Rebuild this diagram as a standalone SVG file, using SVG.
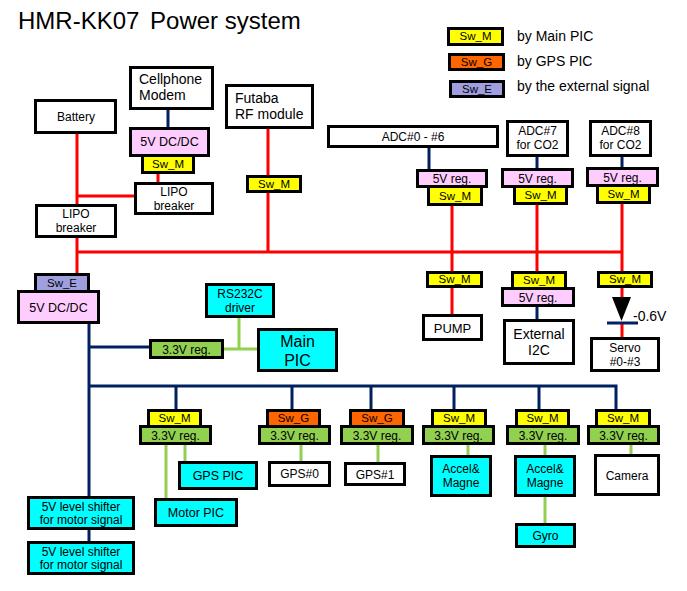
<svg xmlns="http://www.w3.org/2000/svg" width="687" height="591" viewBox="0 0 687 591">
<style>
rect{stroke:#000;stroke-width:3}
.w{fill:#fff}.c{fill:#00ffff}.p{fill:#ffccff}.y{fill:#ffff00}.o{fill:#ff6600}.e{fill:#9f9fdf}.g{fill:#92d050}
text{font-family:"Liberation Sans",Arial,sans-serif;font-size:12px;fill:#000;text-anchor:middle}
.s{font-size:11.5px}
.l{text-anchor:start}
.r{stroke:#ff0000;stroke-width:3;fill:none}
.n{stroke:#002060;stroke-width:3;fill:none}
.gr{stroke:#92d050;stroke-width:3;fill:none}
</style>
<text class="l" x="18" y="29" style="font-size:24px">HMR-KK07 <tspan dx="4">Power system</tspan></text>

<g id="connectors">
<path class="r" d="M77,134V273M77,196H134M158,174V182M77,252H622M268,129V252M452,206V314M537,205V271M622,204V298M622,322V337"/>
<path class="n" d="M168,110V127M429,148V169M537,157V168M622,157V167M537,307V319M89,324V496M89,530V541M89,347H149M89,386H616V409M176,386V409M292,386V409M371,386V409M454,386V409M539,386V409M607,323H638"/>
<path class="gr" d="M239,318V349M224,349H257M166,445V498M185,445V461M301,445V461M378,445V462M468,445V455M545,445V455M545,497V523M631,445V454"/>
<polygon points="612,297 631,297 621.5,321" fill="#000"/>
<text class="l" x="633" y="321" style="font-size:14px">-0.6V</text>
</g>

<g id="legend">
<rect class="y" x="448.5" y="28.5" width="54" height="16"/><text class="s" x="475.5" y="40">Sw_M</text>
<rect class="o" x="449.5" y="54.5" width="54" height="15"/><text class="s" x="476.5" y="65.5">Sw_G</text>
<rect class="e" x="450.5" y="81.5" width="53" height="15"/><text class="s" x="477" y="92.5">Sw_E</text>
<text class="l" x="517" y="41" style="font-size:14px">by Main PIC</text>
<text class="l" x="517" y="66" style="font-size:14px">by GPS PIC</text>
<text class="l" x="517" y="91" style="font-size:14px">by the external signal</text>
</g>

<g id="cellphone"><rect class="w" x="130.5" y="67.5" width="82" height="41"/><text class="l" x="139" y="84" style="font-size:14px">Cellphone</text><text class="l" x="139" y="100" style="font-size:14px">Modem</text></g>
<g id="battery"><rect class="w" x="35.5" y="100.5" width="80" height="32"/><text x="76" y="121">Battery</text></g>
<g id="sw-top"><rect class="y" x="142.5" y="155.5" width="51" height="17"/><text class="s" x="168" y="167.5">Sw_M</text></g>
<g id="dcdc-top"><rect class="p" x="130.5" y="128.5" width="78" height="27"/><text x="169.5" y="146" style="font-size:12.5px">5V DC/DC</text></g>
<g id="lipo-right"><rect class="w" x="135.5" y="183.5" width="77" height="30"/><text x="174" y="196">LIPO</text><text x="174" y="209.5">breaker</text></g>
<g id="lipo-left"><rect class="w" x="36.5" y="205.5" width="79" height="31"/><text x="76" y="218">LIPO</text><text x="76" y="232">breaker</text></g>
<g id="futaba"><rect class="w" x="226.5" y="85.5" width="86" height="42"/><text class="l" x="235" y="103" style="font-size:14px">Futaba</text><text class="l" x="235" y="119" style="font-size:14px">RF module</text></g>
<g id="sw-futaba"><rect class="y" x="247.5" y="176.5" width="53" height="15"/><text class="s" x="274" y="187.5">Sw_M</text></g>

<g id="adc0"><rect class="w" x="328.5" y="126.5" width="169" height="20"/><text x="413" y="140.5">ADC#0 - #6</text></g>
<g id="sw-adc0"><rect class="y" x="428.5" y="186.5" width="53" height="18"/><text class="s" x="455" y="199.5">Sw_M</text></g>
<g id="reg-adc0"><rect class="p" x="417.5" y="170.5" width="69" height="16"/><text x="452" y="183">5V reg.</text></g>
<g id="adc7"><rect class="w" x="507.5" y="121.5" width="60" height="34"/><text x="537.5" y="135">ADC#7</text><text x="537.5" y="149">for CO2</text></g>
<g id="sw-adc7"><rect class="y" x="514.5" y="186.5" width="52" height="17"/><text class="s" x="540.5" y="198.5">Sw_M</text></g>
<g id="reg-adc7"><rect class="p" x="502.5" y="169.5" width="70" height="17"/><text x="537.5" y="182.5">5V reg.</text></g>
<g id="adc8"><rect class="w" x="590.5" y="121.5" width="60" height="34"/><text x="620.5" y="135">ADC#8</text><text x="620.5" y="149">for CO2</text></g>
<g id="sw-adc8"><rect class="y" x="597.5" y="185.5" width="52" height="17"/><text class="s" x="623.5" y="197.5">Sw_M</text></g>
<g id="reg-adc8"><rect class="p" x="587.5" y="168.5" width="70" height="17"/><text x="622.5" y="181.5">5V reg.</text></g>

<g id="sw-e"><rect class="e" x="35.5" y="274.5" width="53" height="17"/><text class="s" x="62" y="286.5">Sw_E</text></g>
<g id="dcdc-low"><rect class="p" x="18.5" y="291.5" width="80" height="31"/><text x="58.5" y="312" style="font-size:12.5px">5V DC/DC</text></g>
<g id="reg-main"><rect class="g" x="150.5" y="340.5" width="72" height="17"/><text x="186.5" y="353.5">3.3V reg.</text></g>
<g id="rs232c"><rect class="c" x="206.5" y="284.5" width="67" height="32"/><text x="240" y="297.5">RS232C</text><text x="240" y="312">driver</text></g>
<g id="main-pic"><rect class="c" x="258.5" y="329.5" width="78" height="41"/><text x="297.5" y="347" style="font-size:16px">Main</text><text x="297.5" y="366" style="font-size:16px">PIC</text></g>

<g id="sw-pump"><rect class="y" x="427.5" y="272.5" width="54" height="14"/><text class="s" x="454.5" y="282.5">Sw_M</text></g>
<g id="pump"><rect class="w" x="423.5" y="315.5" width="58" height="24"/><text x="452.5" y="332.5" style="font-size:13px">PUMP</text></g>
<g id="sw-i2c"><rect class="y" x="512.5" y="272.5" width="53" height="16"/><text class="s" x="539" y="283.5">Sw_M</text></g>
<g id="reg-i2c"><rect class="p" x="502.5" y="288.5" width="71" height="17"/><text x="538" y="301.5">5V reg.</text></g>
<g id="ext-i2c"><rect class="w" x="504.5" y="320.5" width="69" height="43"/><text x="539" y="339" style="font-size:14px">External</text><text x="539" y="354.5" style="font-size:14px">I2C</text></g>
<g id="sw-servo"><rect class="y" x="598.5" y="272.5" width="53" height="14"/><text class="s" x="625" y="282.5">Sw_M</text></g>
<g id="servo"><rect class="w" x="591.5" y="338.5" width="67" height="32"/><text x="625" y="352">Servo</text><text x="625" y="366">#0-#3</text></g>

<g id="sw-b1"><rect class="y" x="148.5" y="410.5" width="52" height="16"/><text class="s" x="174.5" y="421.5">Sw_M</text></g>
<g id="reg-b1"><rect class="g" x="140.5" y="426.5" width="70" height="17"/><text x="175.5" y="439.5">3.3V reg.</text></g>
<g id="sw-b2"><rect class="o" x="267.5" y="410.5" width="52" height="16"/><text class="s" x="293.5" y="421.5">Sw_G</text></g>
<g id="reg-b2"><rect class="g" x="259.5" y="426.5" width="70" height="17"/><text x="294.5" y="439.5">3.3V reg.</text></g>
<g id="sw-b3"><rect class="o" x="350.5" y="410.5" width="53" height="16"/><text class="s" x="377" y="421.5">Sw_G</text></g>
<g id="reg-b3"><rect class="g" x="341.5" y="426.5" width="71" height="17"/><text x="377" y="439.5">3.3V reg.</text></g>
<g id="sw-b4"><rect class="y" x="432.5" y="410.5" width="53" height="16"/><text class="s" x="459" y="421.5">Sw_M</text></g>
<g id="reg-b4"><rect class="g" x="423.5" y="426.5" width="70" height="17"/><text x="458.5" y="439.5">3.3V reg.</text></g>
<g id="sw-b5"><rect class="y" x="516.5" y="410.5" width="52" height="16"/><text class="s" x="542.5" y="421.5">Sw_M</text></g>
<g id="reg-b5"><rect class="g" x="507.5" y="426.5" width="71" height="17"/><text x="543" y="439.5">3.3V reg.</text></g>
<g id="sw-b6"><rect class="y" x="596.5" y="410.5" width="53" height="16"/><text class="s" x="623" y="421.5">Sw_M</text></g>
<g id="reg-b6"><rect class="g" x="588.5" y="426.5" width="70" height="17"/><text x="623.5" y="439.5">3.3V reg.</text></g>

<g id="gps-pic"><rect class="c" x="179.5" y="462.5" width="77" height="26"/><text x="218" y="480" style="font-size:12.5px">GPS PIC</text></g>
<g id="motor-pic"><rect class="c" x="155.5" y="499.5" width="81" height="26"/><text x="196" y="517" style="font-size:12.5px">Motor PIC</text></g>
<g id="shifter1"><rect class="c" x="28.5" y="497.5" width="105" height="31"/><text x="81" y="510.5">5V level shifter</text><text x="81" y="524">for motor signal</text></g>
<g id="shifter2"><rect class="c" x="28.5" y="542.5" width="105" height="31"/><text x="81" y="555.5">5V level shifter</text><text x="81" y="569">for motor signal</text></g>
<g id="gps0"><rect class="w" x="269.5" y="462.5" width="60" height="23"/><text x="299.5" y="478">GPS#0</text></g>
<g id="gps1"><rect class="w" x="345.5" y="463.5" width="59" height="21"/><text x="375" y="478.5">GPS#1</text></g>
<g id="accel1"><rect class="c" x="431.5" y="456.5" width="59" height="39"/><text x="461" y="473">Accel&amp;</text><text x="461" y="487">Magne</text></g>
<g id="accel2"><rect class="c" x="515.5" y="456.5" width="59" height="39"/><text x="545" y="473">Accel&amp;</text><text x="545" y="487">Magne</text></g>
<g id="gyro"><rect class="c" x="516.5" y="524.5" width="58" height="22"/><text x="545.5" y="540">Gyro</text></g>
<g id="camera"><rect class="w" x="595.5" y="455.5" width="63" height="39"/><text x="627" y="479.5">Camera</text></g>
</svg>
